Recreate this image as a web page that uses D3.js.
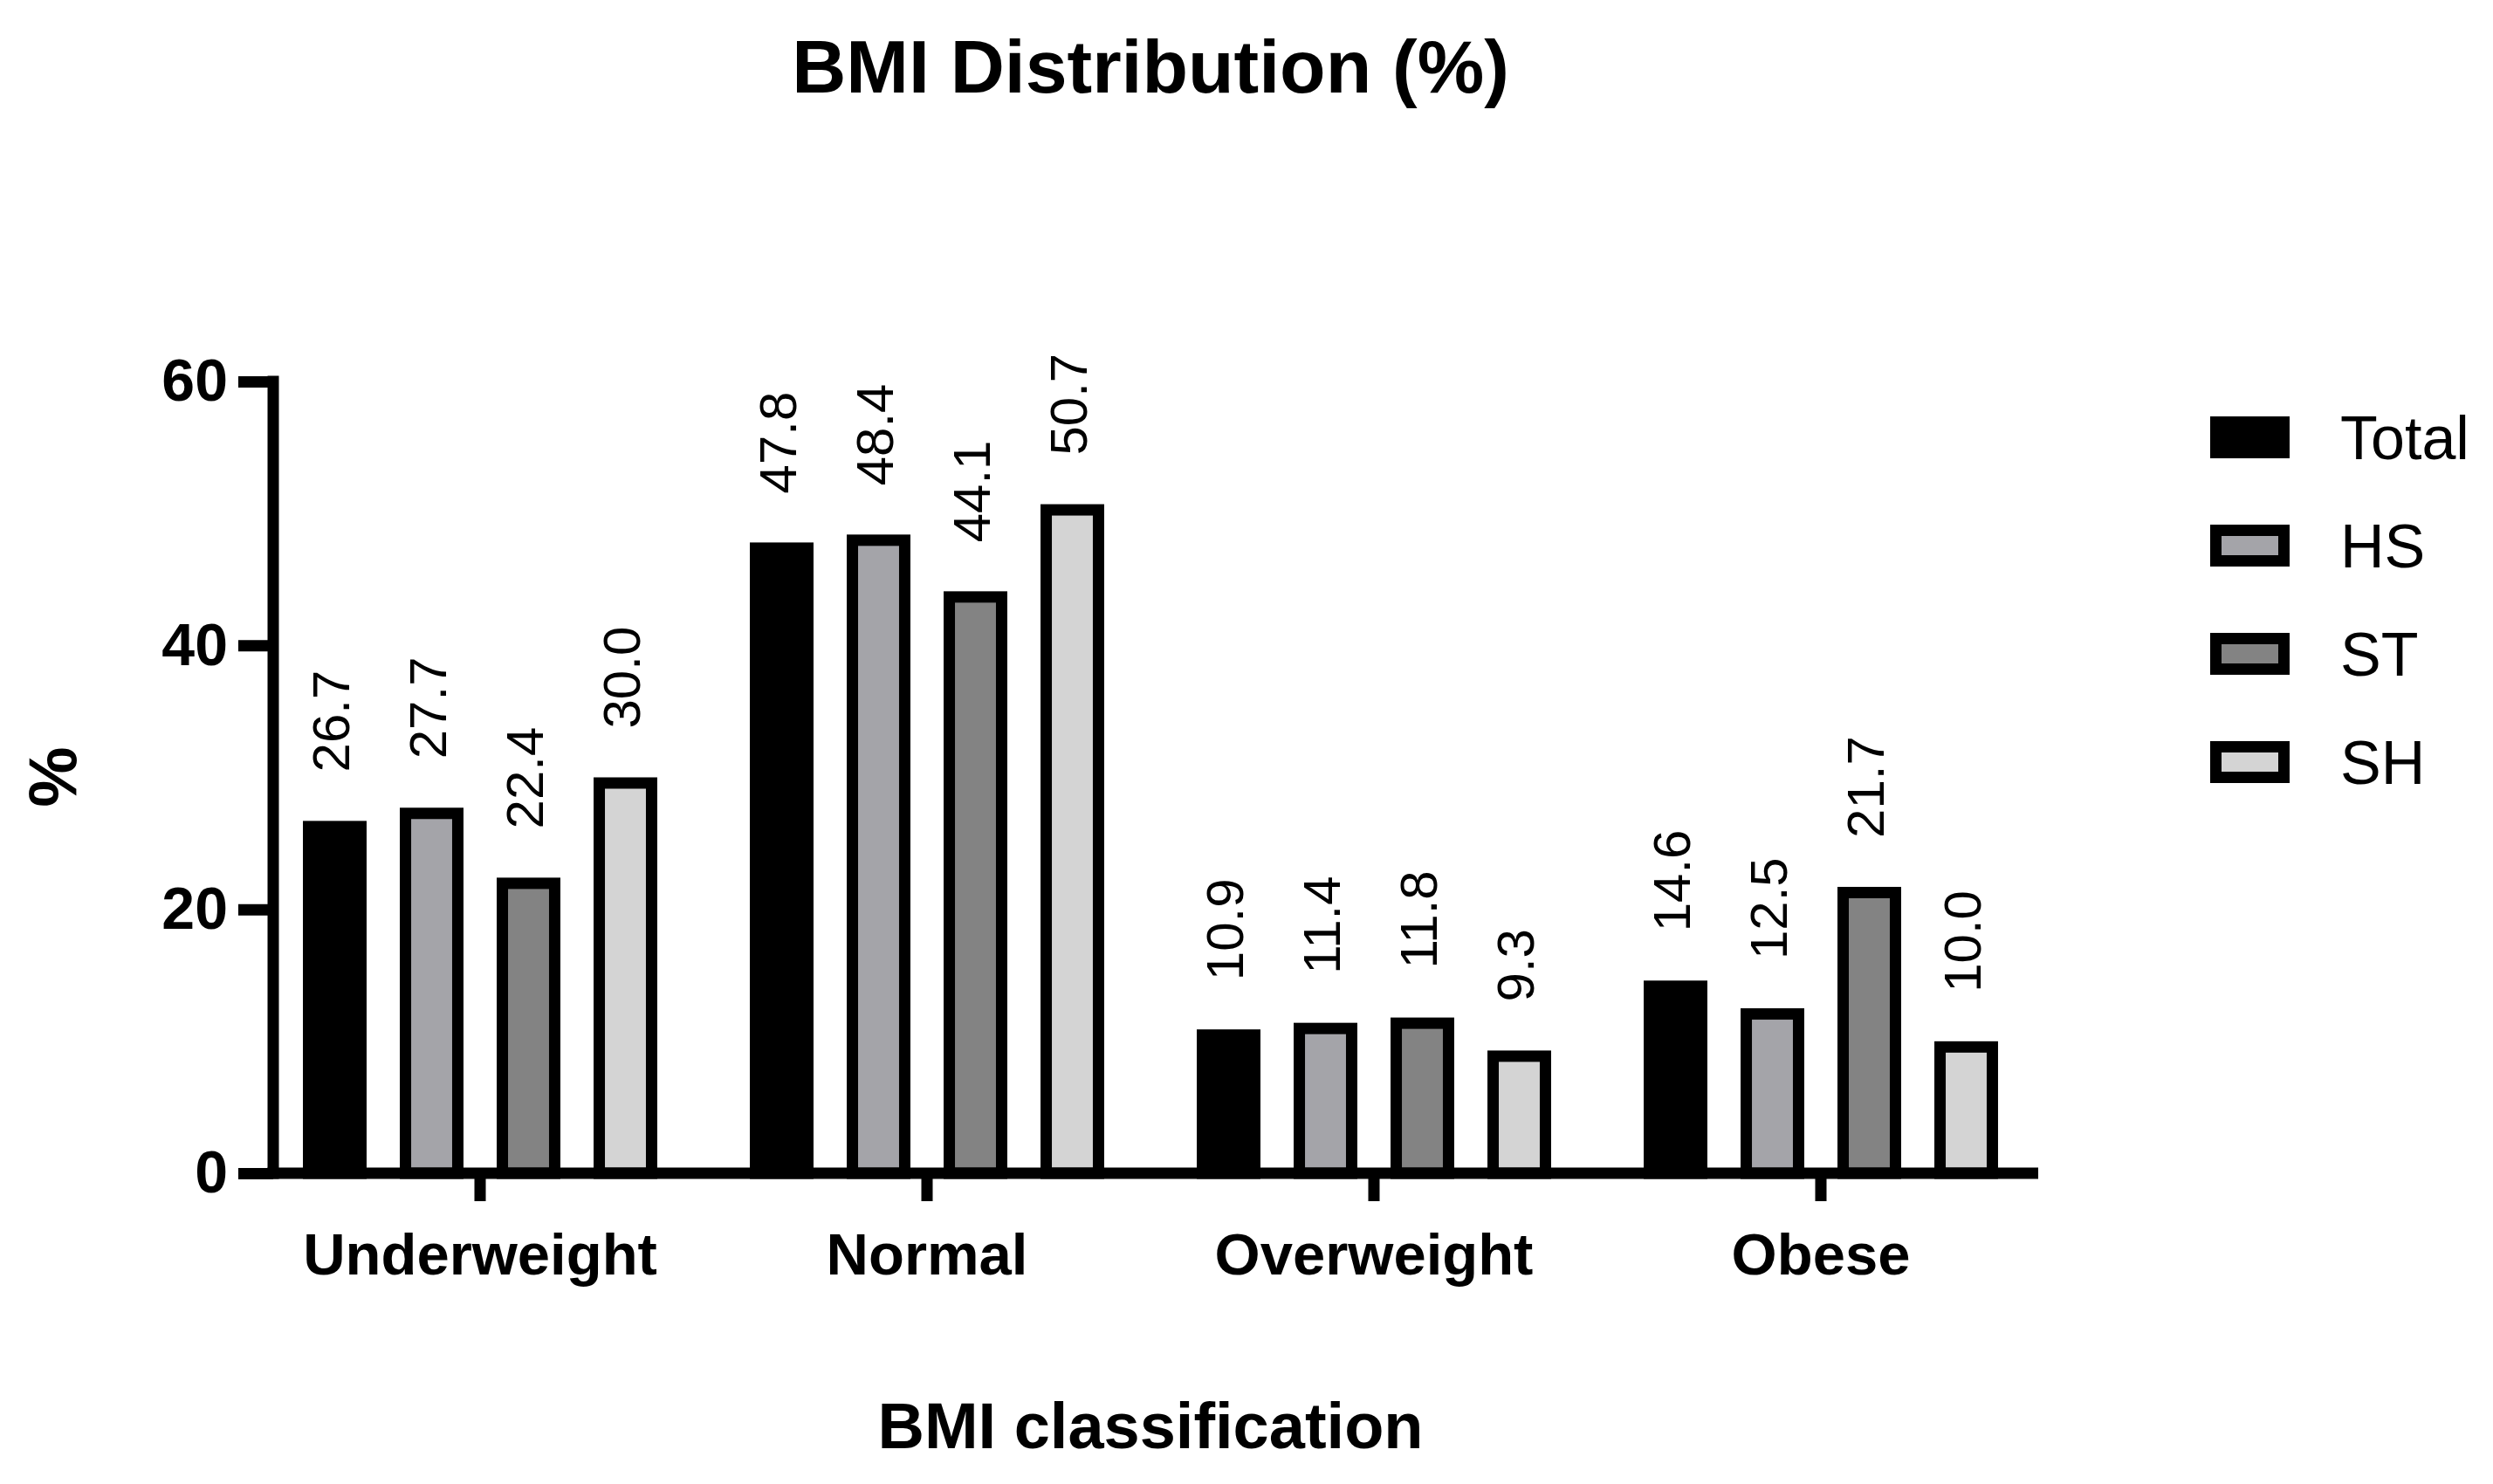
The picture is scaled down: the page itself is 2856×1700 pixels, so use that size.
<html>
<head>
	<script src="https://d3js.org/d3.v7.min.js"></script>
	<style>
		body { margin: 0; background: #fff; }
		text { font-family: "Liberation Sans", Arial, sans-serif; }
	</style>
</head>
<body>

<script>
var categories = ["Underweight", "Normal", "Overweight", "Obese"];
var series = ["Total", "HS", "ST", "SH"];
var total = [26.7, 47.8, 10.9, 14.6];
var hs = [27.7, 48.4, 11.4, 12.5];
var st = [22.4, 44.1, 11.8, 21.7];
var sh = [30.0, 50.7, 9.3, 10.0];
var yTicks = [0, 20, 40, 60];
var fills = ["#000000", "#a4a4a9", "#838383", "#d4d4d4"];

var w = 2856; //寬
var h = 1700; //高

var values = [total, hs, st, sh];
var data = [];
categories.forEach(function(c, i){
	series.forEach(function(s, j){
		data.push({cat: c, ser: s, v: values[j][i], k: j});
	});
});

var svg = d3.select("body").append("svg").attr("width", w).attr("height", h);

//x軸：組別
var x0 = d3.scaleBand().domain(categories).range([294, 2342]);
//組內的四根柱
var x1 = d3.scaleBand().domain(series).range([-222, 222]).paddingInner(0.46).paddingOuter(0.23);
//y軸
var yScale = d3.scaleLinear().domain([0, 60]).range([1344, 437]);

var axisW = 13;
var barStroke = 13;

// bars: outer edge of the border sits on the value
svg.selectAll("rect.bar")
	.data(data)
	.enter()
	.append("rect")
	.attr("class", "bar")
	.attr("x", function(d){ return x0(d.cat) + x0.bandwidth() / 2 + x1(d.ser); })
	.attr("y", function(d){ return yScale(d.v) + barStroke / 2; })
	.attr("width", x1.bandwidth())
	.attr("height", function(d){ return yScale(0) - yScale(d.v) - barStroke / 2; })
	.attr("fill", function(d){ return fills[d.k]; })
	.attr("stroke", "#000")
	.attr("stroke-width", barStroke);

// value labels
svg.selectAll("text.val")
	.data(data)
	.enter()
	.append("text")
	.attr("class", "val")
	.attr("transform", function(d){
		var cx = x0(d.cat) + x0.bandwidth() / 2 + x1(d.ser) + x1.bandwidth() / 2;
		return "translate(" + cx + "," + (yScale(d.v) - 56) + ") rotate(-90)";
	})
	.attr("dy", "0.27em")
	.attr("font-size", 60)
	.attr("fill", "#000")
	.text(function(d){ return d.v.toFixed(1); });

// y axis
var yAxis = d3.axisLeft(yScale).tickValues(yTicks).tickSize(40).tickPadding(12).tickFormat(d3.format("d"));
var gy = svg.append("g").attr("transform", "translate(313,0)").call(yAxis);
gy.select(".domain").remove();
gy.selectAll(".tick line").attr("stroke", "#000").attr("stroke-width", axisW);
gy.selectAll(".tick text")
	.attr("font-family", "Liberation Sans, Arial, sans-serif")
	.attr("font-size", 68)
	.attr("font-weight", "bold")
	.attr("fill", "#000");

svg.append("line")
	.attr("x1", 313).attr("x2", 313)
	.attr("y1", yScale(60) - axisW / 2).attr("y2", yScale(0) + axisW / 2)
	.attr("stroke", "#000").attr("stroke-width", axisW);

// x axis
var xAxis = d3.axisBottom(x0).tickSize(32).tickPadding(36);
var gx = svg.append("g").attr("transform", "translate(0," + yScale(0) + ")").call(xAxis);
gx.select(".domain").remove();
gx.selectAll(".tick line").attr("stroke", "#000").attr("stroke-width", axisW);
gx.selectAll(".tick text")
	.attr("font-family", "Liberation Sans, Arial, sans-serif")
	.attr("font-size", 67)
	.attr("font-weight", "bold")
	.attr("fill", "#000");

svg.append("line")
	.attr("x1", 313 - axisW / 2).attr("x2", 2335)
	.attr("y1", yScale(0)).attr("y2", yScale(0))
	.attr("stroke", "#000").attr("stroke-width", axisW);

// titles
svg.append("text")
	.attr("x", 1318).attr("y", 106)
	.attr("text-anchor", "middle")
	.attr("font-size", 86)
	.attr("font-weight", "bold")
	.text("BMI Distribution (%)");

svg.append("text")
	.attr("x", 1318).attr("y", 1659)
	.attr("text-anchor", "middle")
	.attr("font-size", 74)
	.attr("font-weight", "bold")
	.text("BMI classification");

svg.append("text")
	.attr("transform", "translate(87,890) rotate(-90)")
	.attr("text-anchor", "middle")
	.attr("font-size", 78)
	.attr("font-weight", "bold")
	.text("%");

// legend
var legend = svg.selectAll("g.leg")
	.data(series)
	.enter()
	.append("g")
	.attr("class", "leg")
	.attr("transform", function(d, i){ return "translate(2532," + (501 + i * 124) + ")"; });

legend.append("rect")
	.attr("x", 6.5).attr("y", -17.5)
	.attr("width", 78).attr("height", 35)
	.attr("fill", function(d, i){ return fills[i]; })
	.attr("stroke", "#000")
	.attr("stroke-width", 13);

legend.append("text")
	.attr("x", 149).attr("y", 0)
	.attr("dy", "0.35em")
	.attr("font-size", 70)
	.text(function(d){ return d; });
</script>

</body>
</html>
